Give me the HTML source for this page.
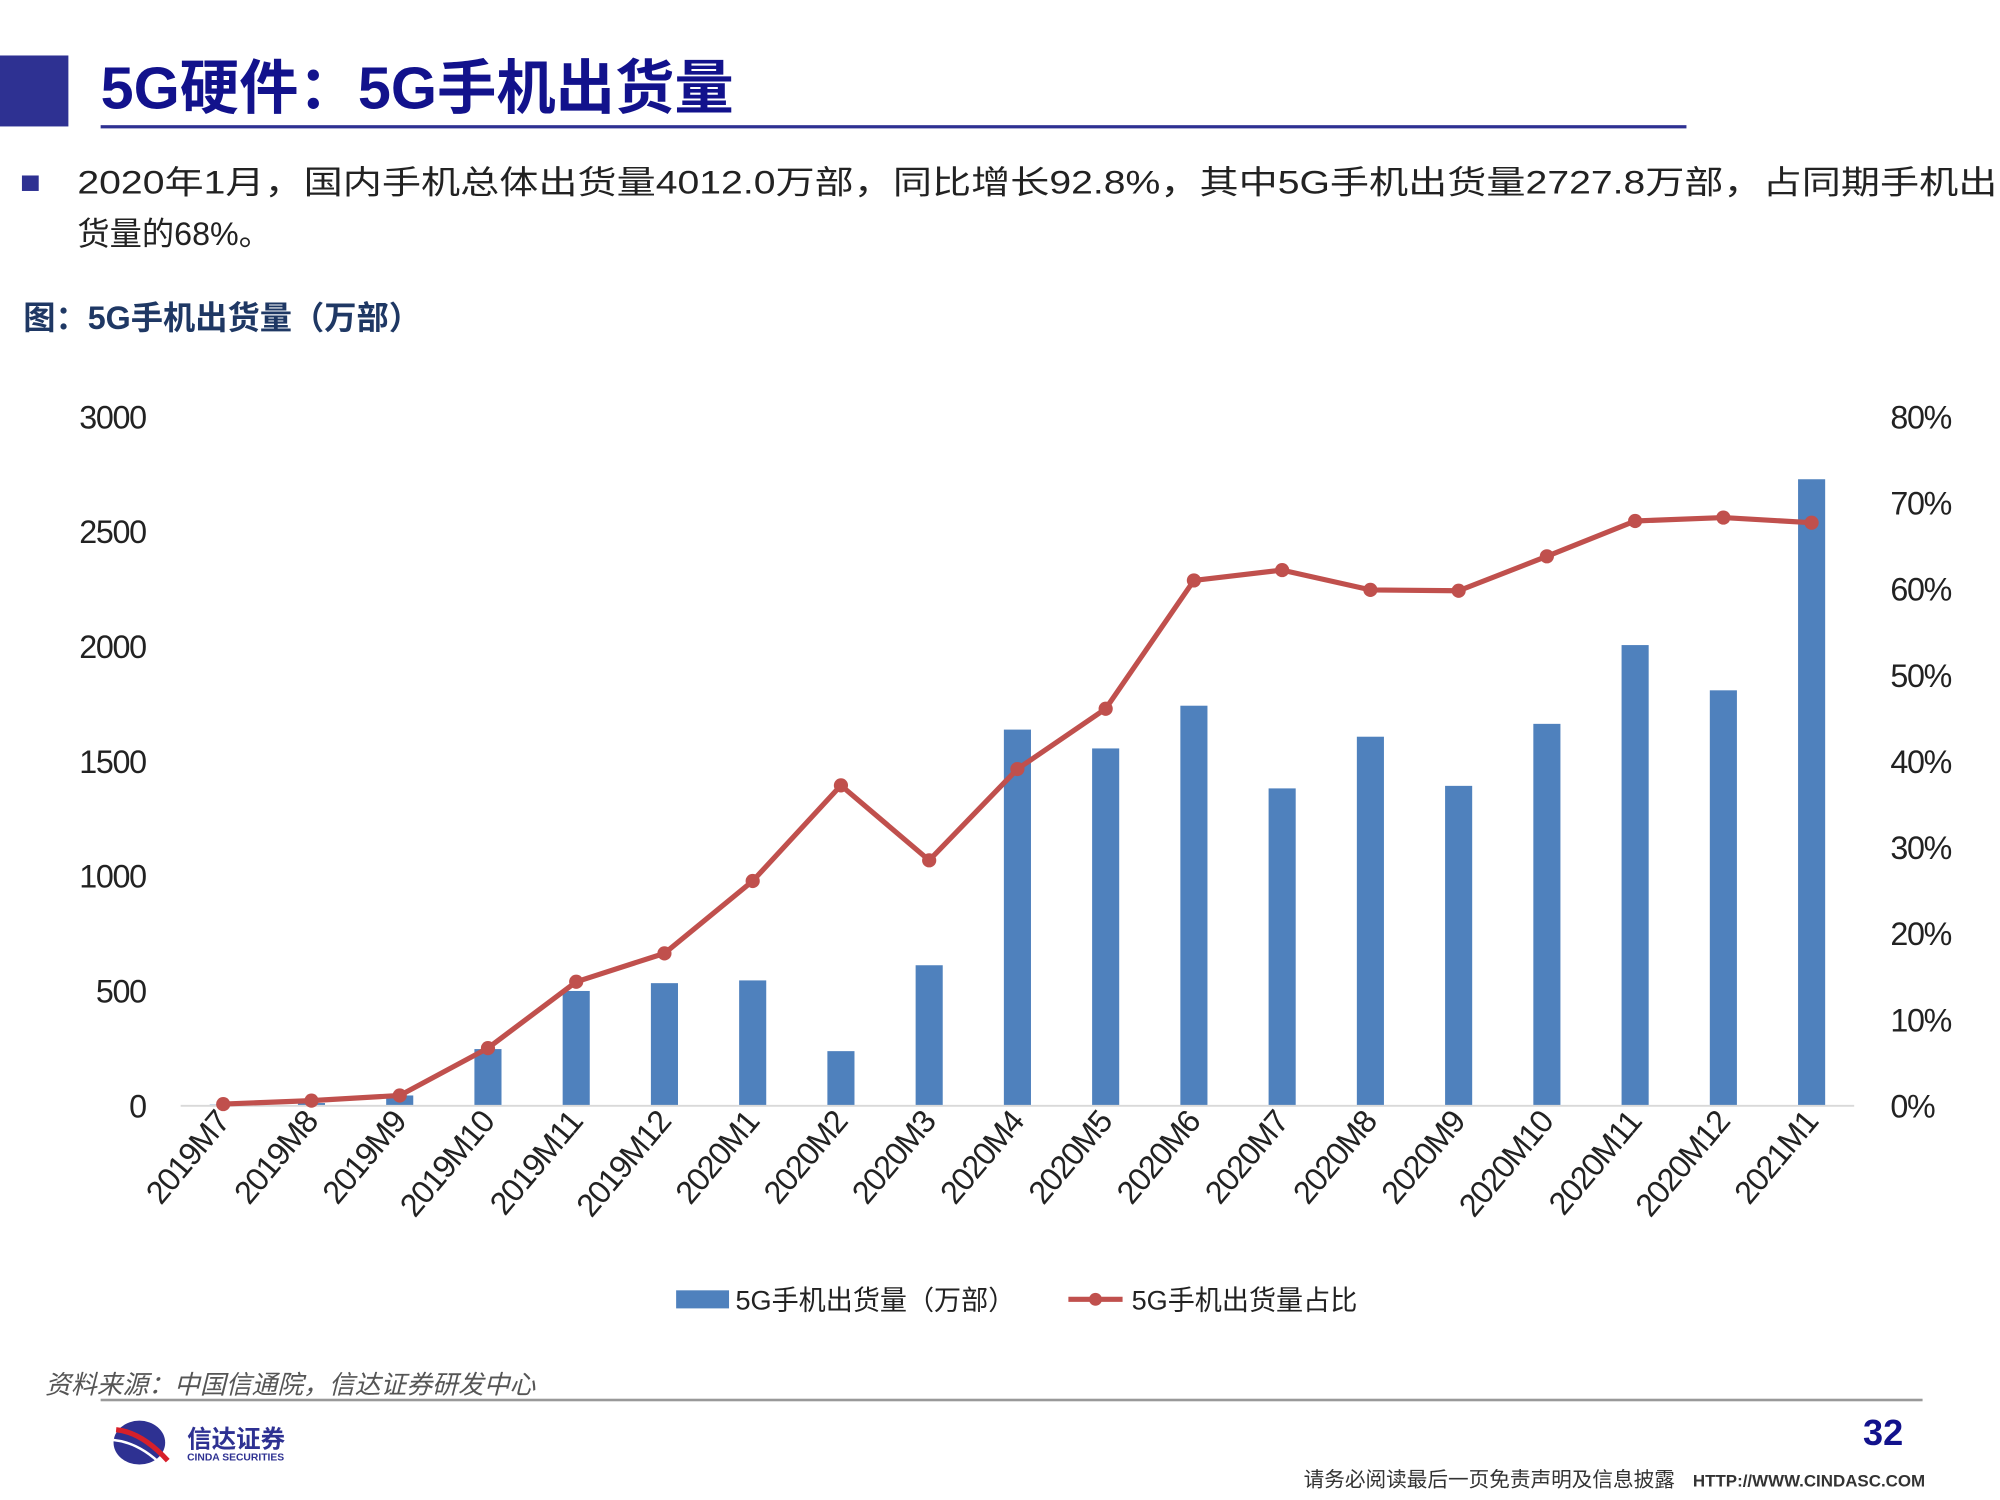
<!DOCTYPE html>
<html><head><meta charset="utf-8"><style>
html,body{margin:0;padding:0;background:#fff;}
svg{display:block;}
text{font-family:"Liberation Sans","Noto Sans CJK SC",sans-serif;}
</style></head><body>
<svg id="root" width="2000" height="1500" viewBox="0 0 1550 1162.5" xmlns="http://www.w3.org/2000/svg">
<rect x="0" y="43" width="53" height="55" fill="#2e3192"/>
<text x="78" y="84" font-size="46" font-weight="bold" fill="#12128c">5G硬件：5G手机出货量</text>
<rect x="78" y="97" width="1229" height="2.5" fill="#2e3192"/>
<rect x="17" y="136" width="13" height="12" fill="#2e3192"/>
<text x="60" y="150" font-size="25" fill="#222" font-family="'Liberation Serif','Noto Serif CJK SC',serif" textLength="1488" lengthAdjust="spacingAndGlyphs">2020年1月，国内手机总体出货量4012.0万部，同比增长92.8%，其中5G手机出货量2727.8万部，占同期手机出</text>
<text x="60" y="190" font-size="25" fill="#222" font-family="'Liberation Serif','Noto Serif CJK SC',serif">货量的68%。</text>
<text x="18" y="255" font-size="25" font-weight="bold" fill="#1f3864" font-family="'Liberation Serif','Noto Serif CJK SC',serif">图：5G手机出货量（万部）</text>
<g id="chart"></g>
<g>
<rect x="524" y="1000" width="41" height="14" fill="#4f81bd"/>
<text x="570" y="1015" font-size="21" fill="#222">5G手机出货量（万部）</text>
<line x1="828" y1="1007" x2="870" y2="1007" stroke="#c0504d" stroke-width="4"/>
<circle cx="849" cy="1007" r="5" fill="#c0504d"/>
<text x="877" y="1015" font-size="21" fill="#222">5G手机出货量占比</text>
</g>
<text x="35" y="1080" font-size="20" font-style="italic" fill="#555">资料来源：中国信通院，信达证券研发中心</text>
<rect x="78" y="1084" width="1412" height="2" fill="#999"/>
<g>
<ellipse cx="108" cy="1118" rx="20" ry="17" fill="#2e3192"/>
<path d="M90 1108 Q110 1110 130 1132" stroke="#d7202a" stroke-width="4" fill="none"/>
<path d="M88 1116 Q108 1118 126 1136" stroke="#fff" stroke-width="2" fill="none"/>
<text x="145" y="1122" font-size="19" font-weight="bold" fill="#2e3192">信达证券</text>
<text x="145" y="1132" font-size="8" font-weight="bold" fill="#2e3192">CINDA SECURITIES</text>
</g>
<text x="1475" y="1120" font-size="28" font-weight="bold" fill="#12128c" text-anchor="end">32</text>
<text x="1298" y="1152" font-size="16" fill="#333" text-anchor="end">请务必阅读最后一页免责声明及信息披露</text>
<text x="1312" y="1152" font-size="13" font-weight="bold" fill="#333" textLength="180" lengthAdjust="spacingAndGlyphs">HTTP://WWW.CINDASC.COM</text>
</svg>
<script>
const categories=["2019M7","2019M8","2019M9","2019M10","2019M11","2019M12","2020M1","2020M2","2020M3","2020M4","2020M5","2020M6","2020M7","2020M8","2020M9","2020M10","2020M11","2020M12","2021M1"];
const shipments=[5,12,45,247,500,534,546,238,612,1638,1556,1742,1382,1607,1393,1663,2006,1809,2728];
const sharePct=[0.2,0.6,1.2,6.7,14.4,17.7,26.1,37.2,28.5,39.1,46.1,61.0,62.2,59.9,59.8,63.8,67.9,68.3,67.7];
const leftTicks=[0,500,1000,1500,2000,2500,3000];
const rightTicks=[0,10,20,30,40,50,60,70,80];
const NS="http://www.w3.org/2000/svg";
const g=document.getElementById('chart');
const y0=857,yTop=323,firstX=173,lastX=1404;
function xPos(i){return firstX+(lastX-firstX)*i/(categories.length-1);}
function yL(v){return y0-(y0-yTop)*v/3000;}
function yR(v){return y0-(y0-yTop)*v/80;}
function mk(tag,attrs){const e=document.createElementNS(NS,tag);for(const k in attrs)e.setAttribute(k,attrs[k]);g.appendChild(e);return e;}
leftTicks.forEach(t=>{const e=mk('text',{x:113,y:yL(t)+9,'font-size':25,'text-anchor':'end',fill:'#222','letter-spacing':'-1'});e.textContent=t;

});
rightTicks.forEach(t=>{const e=mk('text',{x:1465,y:yR(t)+9,'font-size':25,fill:'#222','letter-spacing':'-1'});e.textContent=t+'%';

});
shipments.forEach((v,i)=>{const e=mk('rect',{x:xPos(i)-10.5,y:yL(v),width:21,height:y0-yL(v),fill:'#4f81bd'});

});
const ax=mk('line',{x1:140,y1:y0,x2:1437,y2:y0,stroke:'#d9d9d9','stroke-width':1.5});


const pl=mk('polyline',{points:sharePct.map((v,i)=>xPos(i)+','+yR(v)).join(' '),fill:'none',stroke:'#c0504d','stroke-width':4,'stroke-linejoin':'round'});


sharePct.forEach((v,i)=>{const c=mk('circle',{cx:xPos(i),cy:yR(v),r:5.5,fill:'#c0504d'});

});
categories.forEach((c,i)=>{const x=xPos(i)+6,y=870;const e=mk('text',{x:x,y:y,'font-size':25,'text-anchor':'end',fill:'#222','letter-spacing':'-1',transform:`rotate(-50 ${x} ${y})`});e.textContent=c;

});
</script>
</body></html>
